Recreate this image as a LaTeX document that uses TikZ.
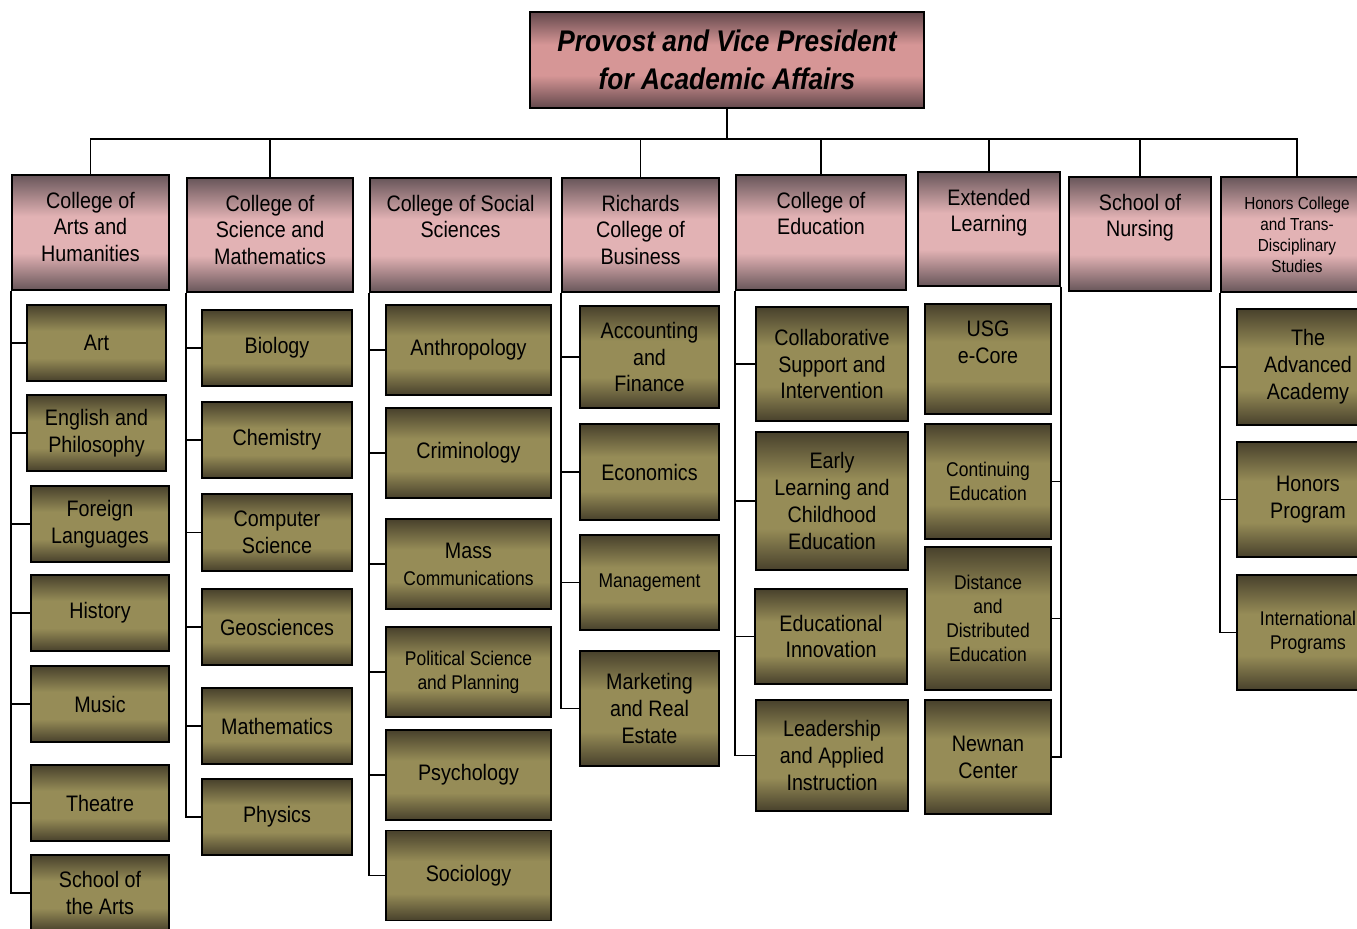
\documentclass[tikz,border=0pt]{standalone}
\usepackage{fontspec}
\setmainfont{Liberation Sans}[FakeStretch=0.88]
\usepackage{tikz}
\definecolor{olivedk}{RGB}{72,65,44}
\definecolor{olivelt}{RGB}{150,140,87}
\definecolor{pinkdk}{RGB}{104,86,90}
\definecolor{pinklt}{RGB}{226,178,180}
\definecolor{titledk}{RGB}{100,72,76}
\definecolor{titlelt}{RGB}{214,150,150}
\pgfdeclareverticalshading{olivesh}{100bp}{color(0bp)=(olivedk); color(25bp)=(olivedk); color(40bp)=(olivelt); color(58bp)=(olivelt); color(75bp)=(olivedk); color(100bp)=(olivedk)}
\pgfdeclareverticalshading{pinksh}{100bp}{color(0bp)=(pinkdk); color(25bp)=(pinkdk); color(41bp)=(pinklt); color(57bp)=(pinklt); color(75bp)=(pinkdk); color(100bp)=(pinkdk)}
\pgfdeclareverticalshading{titlesh}{100bp}{color(0bp)=(titledk); color(25bp)=(titledk); color(42bp)=(titlelt); color(58bp)=(titlelt); color(75bp)=(titledk); color(100bp)=(titledk)}

\begin{document}
\begin{tikzpicture}[x=0.02cm,y=-0.02cm,
		sz/.style 2 args = {minimum width=#1*0.02cm,minimum height=#2*0.02cm},
		title/.style = {draw=black,line width=1.1pt,shading=titlesh,align=center,inner sep=1pt,font=\fontsize{17}{21.5}\selectfont\bfseries\itshape},
		ctitle/.style = {anchor=north,inner sep=0pt,yshift=-0.35cm,align=center,font=\fontsize{12.75}{15.3}\selectfont},
		cbox/.style = {draw=black,line width=1.1pt,shading=pinksh},
		college/.style = {cbox,label={[ctitle]north:{#1}}},
		collegesm/.style = {cbox,label={[ctitle,font=\fontsize{9.9}{11.9}\selectfont,yshift=-0.06cm]north:{#1}}},
		dept/.style = {draw=black,line width=1.1pt,shading=olivesh,align=center,inner sep=1pt,font=\fontsize{12.75}{15.3}\selectfont},
		dsmall/.style = {font=\fontsize{11.3}{13.6}\selectfont},
		link/.style = {line width=0.85pt}
		]
		\clip (0,0) rectangle (1357,929);
		%PROVOST
		\node[title,sz={394}{96}] (@top) at (727,60) {Provost and Vice President\\for Academic Affairs};
		%COLLEGES
		\node[college={College of\\Arts and\\Humanities},sz={157}{115}] (@c1) at (90.5,232.5) {};
		\node[college={College of\\Science and\\Mathematics},sz={166}{114}] (@c2) at (270,235) {};
		\node[college={College of Social\\Sciences},sz={181}{114}] (@c3) at (460.5,235) {};
		\node[college={Richards\\College of\\Business},sz={157}{114}] (@c4) at (640.5,235) {};
		\node[college={College of\\Education},sz={170}{115}] (@c5) at (821,232.5) {};
		\node[college={Extended\\Learning},sz={142}{114}] (@c6) at (989,229) {};
		\node[college={School of\\Nursing},sz={142}{114}] (@c7) at (1140,234) {};
		\node[collegesm={Honors College\\and Trans-\\Disciplinary\\Studies},sz={152}{115}] (@c8) at (1297,234.5) {};
		%ARTS AND HUMANITIES
		\node[dept,sz={139}{76}] (@ah1) at (96.5,343) {Art};
		\node[dept,sz={139}{76}] (@ah2) at (96.5,433) {English and\\Philosophy};
		\node[dept,sz={138}{76}] (@ah3) at (100,524) {Foreign\\Languages};
		\node[dept,sz={138}{76}] (@ah4) at (100,613) {History};
		\node[dept,sz={138}{76}] (@ah5) at (100,704) {Music};
		\node[dept,sz={138}{76}] (@ah6) at (100,803) {Theatre};
		\node[dept,sz={138}{76}] (@ah7) at (100,893) {School of\\the Arts};
		%SCIENCE AND MATHEMATICS
		\node[dept,sz={150}{76}] (@sm1) at (277,348) {Biology};
		\node[dept,sz={150}{76}] (@sm2) at (277,440) {Chemistry};
		\node[dept,sz={150}{77}] (@sm3) at (277,532.5) {Computer\\Science};
		\node[dept,sz={150}{76}] (@sm4) at (277,627) {Geosciences};
		\node[dept,sz={150}{76}] (@sm5) at (277,726) {Mathematics};
		\node[dept,sz={150}{76}] (@sm6) at (277,817) {Physics};
		%SOCIAL SCIENCES
		\node[dept,sz={165}{90}] (@ss1) at (468.5,350) {Anthropology};
		\node[dept,sz={165}{90}] (@ss2) at (468.5,453) {Criminology};
		\node[dept,sz={165}{90}] (@ss3) at (468.5,564) {Mass\\{\fontsize{11.3}{13.6}\selectfont Communications}};
		\node[dept,dsmall,sz={165}{90}] (@ss4) at (468.5,672) {Political Science\\and Planning};
		\node[dept,sz={165}{90}] (@ss5) at (468.5,775) {Psychology};
		\node[dept,sz={165}{90}] (@ss6) at (468.5,875.5) {Sociology};
		%BUSINESS
		\node[dept,sz={139}{102}] (@bu1) at (649.5,357) {Accounting\\and\\Finance};
		\node[dept,sz={139}{96}] (@bu2) at (649.5,472) {Economics};
		\node[dept,dsmall,sz={139}{95}] (@bu3) at (649.5,582.5) {Management};
		\node[dept,sz={139}{115}] (@bu4) at (649.5,708.5) {Marketing\\and Real\\Estate};
		%EDUCATION
		\node[dept,sz={152}{114}] (@ed1) at (832,364) {Collaborative\\Support and\\Intervention};
		\node[dept,sz={152}{138}] (@ed2) at (832,501) {Early\\Learning and\\Childhood\\Education};
		\node[dept,sz={152}{95}] (@ed3) at (831,636.5) {Educational\\Innovation};
		\node[dept,sz={152}{111}] (@ed4) at (832,755.5) {Leadership\\and Applied\\Instruction};
		%EXTENDED LEARNING
		\node[dept,sz={126}{110}] (@el1) at (988,359) {USG\\e-Core\\[4pt]};
		\node[dept,dsmall,sz={126}{115}] (@el2) at (988,481.5) {Continuing\\Education};
		\node[dept,dsmall,sz={126}{143}] (@el3) at (988,618.5) {Distance\\and\\Distributed\\Education};
		\node[dept,sz={126}{114}] (@el4) at (988,757) {Newnan\\Center};
		%HONORS
		\node[dept,sz={142}{116}] (@hc1) at (1308,367) {The\\Advanced\\Academy};
		\node[dept,sz={142}{115}] (@hc2) at (1308,499.5) {Honors\\Program};
		\node[dept,dsmall,sz={142}{115}] (@hc3) at (1308,632.5) {International\\Programs};
		%LINEE
		\foreach \c in {@c1,@c2,@c4,@c5,@c6,@c7,@c8}
			\draw[link] (@top.south) -- ++(0,30) -| (\c.north);
		\foreach \k in {1,...,7}
			\draw[link] (@c1.south west) |- (@ah\k.west);
		\foreach \k in {1,...,6}
			\draw[link] (@c2.south west) |- (@sm\k.west);
		\foreach \k in {1,...,6}
			\draw[link] (@c3.south west) |- (@ss\k.west);
		\foreach \k in {1,...,4}
			\draw[link] (@c4.south west) |- (@bu\k.west);
		\foreach \k in {1,...,4}
			\draw[link] (@c5.south west) |- (@ed\k.west);
		\foreach \k in {2,3,4}
			\draw[link] (@c6.south east) |- (@el\k.east);
		\foreach \k in {1,2,3}
			\draw[link] (@c8.south west) |- (@hc\k.west);
	\end{tikzpicture}
\end{document}
